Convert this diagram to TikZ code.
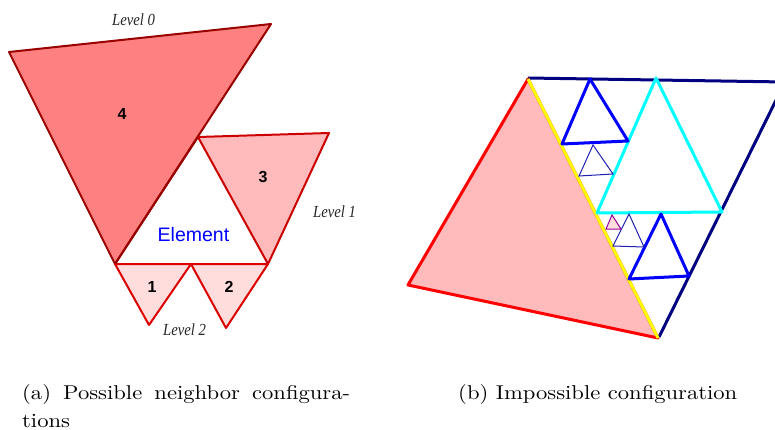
\documentclass[tikz,border=0pt]{standalone}
\usepackage{graphicx}
\usepackage{fontspec}
\newfontfamily\sansf{Liberation Sans}
\newfontfamily\serift{Liberation Serif}
\definecolor{darkred}{HTML}{990000}
\definecolor{midred}{HTML}{CC0000}
\definecolor{litred}{HTML}{DD0000}
\definecolor{fillfour}{HTML}{FF8080}
\definecolor{fillthree}{HTML}{FFBBBB}
\definecolor{fillone}{HTML}{FFDDDD}
\definecolor{navyc}{HTML}{000080}
\definecolor{cyanc}{HTML}{00FFFF}
\definecolor{bluec}{HTML}{0000FF}
\definecolor{yellowc}{HTML}{FFFF00}
\definecolor{redc}{HTML}{FF0000}
\definecolor{thinblue}{HTML}{2020B0}
\definecolor{purp}{HTML}{990099}
\tikzset{
  lvl/.style={inner sep=0pt, anchor=base west, text=black!85, font=\serift\itshape\fontsize{14.7}{17}\selectfont},
  num/.style={inner sep=0pt, font=\sansf\bfseries\fontsize{16}{18}\selectfont},
  captext/.style={inner sep=0pt, anchor=base west},
  thick3/.style={line width=3pt, line join=round},
}
\begin{document}
\begin{tikzpicture}[x=1pt,y=-1pt]
\useasboundingbox (0,0) rectangle (775,430);
% ---------- (a) ----------
\filldraw[fill=fillfour, draw=darkred, line width=2pt, line join=round]
  (9,52) -- (271,24) -- (115,264) -- cycle;
\filldraw[fill=fillthree, draw=midred, line width=2pt, line join=round]
  (198,137) -- (329,133) -- (268,264) -- cycle;
\filldraw[fill=fillone, draw=litred, line width=2pt, line join=round]
  (115,264) -- (191,264) -- (149,325) -- cycle;
\filldraw[fill=fillone, draw=litred, line width=2pt, line join=round]
  (191,264) -- (268,264) -- (226,328) -- cycle;
\draw[darkred, line width=2pt, line join=round] (115,264) -- (198,137);
\node[num] (n4) at (122,114) {4};
\node[num] (n3) at (263,177) {3};
\node[num] (n1) at (152,287) {1};
\node[num] (n2) at (229,287) {2};
\node[inner sep=0pt, anchor=base, text=blue, font=\sansf\fontsize{19.5}{22}\selectfont] (el) at (193.5,241.7) {Element};
\node[lvl] (l0) at (112,26) {\scalebox{1}[1.15]{Level 0}};
\node[lvl] (l1) at (313,217) {\scalebox{1}[1.15]{Level 1}};
\node[lvl] (l2) at (163,335) {\scalebox{1}[1.15]{Level 2}};
% ---------- (b) ----------
\begin{scope}
\clip (0,0) rectangle (775,430);
\draw[navyc, thick3] (528,78) -- (785,82) -- (659,337);
\filldraw[fill=fillthree, draw=redc, thick3] (528,79) -- (408,285) -- (658,338) -- cycle;
\draw[yellowc, line width=3pt] (528,79) -- (658,338);
\draw[cyanc, thick3] (656,78) -- (597,213) -- (722,212) -- cycle;
\draw[bluec, thick3] (590,79) -- (562,144) -- (628,141) -- cycle;
\draw[bluec, thick3] (661,214) -- (629,279) -- (689,276) -- cycle;
\draw[thinblue, line width=1pt] (593,145) -- (579,176) -- (613,174) -- cycle;
\draw[thinblue, line width=1pt] (629,214) -- (613,246) -- (644,247) -- cycle;
\filldraw[fill=fillone, draw=purp, line width=1pt] (612,215) -- (606,229) -- (621,229) -- cycle;
\end{scope}
% ---------- captions ----------
\node[captext] (capa1) at (22,399) {\scalebox{2.26}[2.0]{\fontsize{10}{12}\selectfont\hbox to 145.1pt{(a)\hfill Possible\hfill neighbor\hfill configura-}}};
\node[captext] (capa2) at (22,427) {\scalebox{2.26}[2.0]{\fontsize{10}{12}\selectfont tions}};
\node[captext] (capb) at (458,399) {\scalebox{2.26}[2.0]{\fontsize{10}{12}\selectfont (b) Impossible configuration}};
\end{tikzpicture}
\end{document}
